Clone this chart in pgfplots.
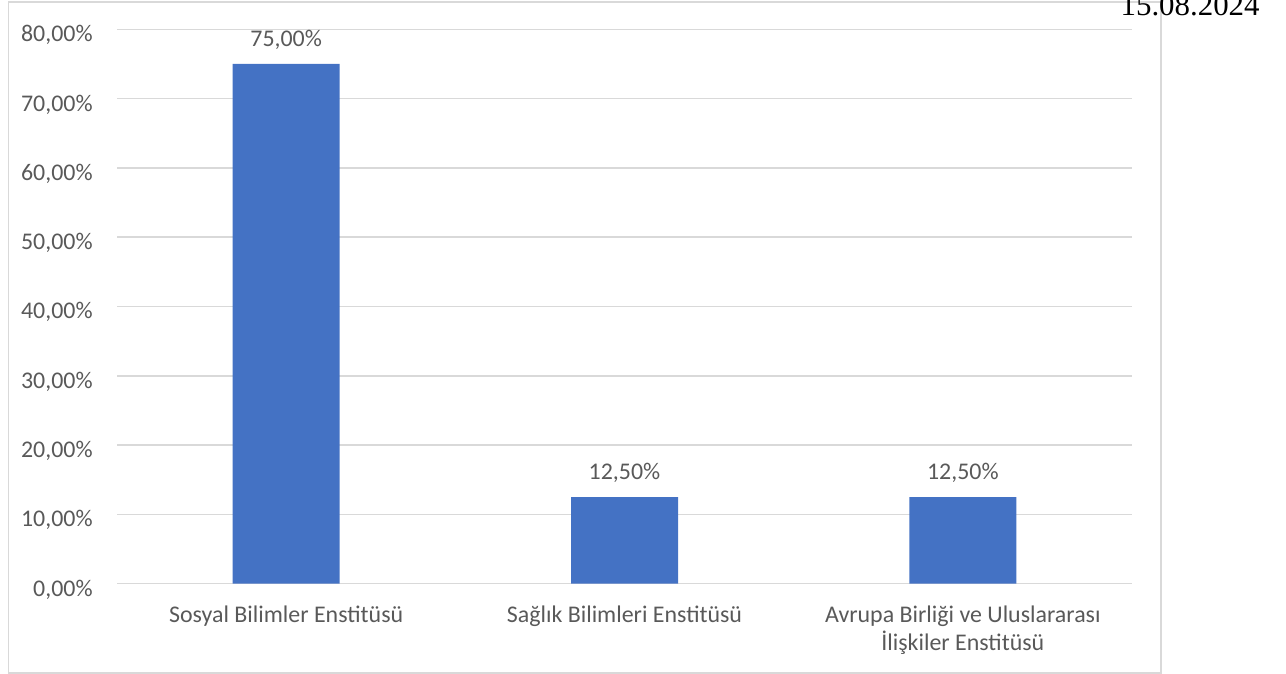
\documentclass[border=0pt]{standalone}
\usepackage{fontspec}
\setmainfont{Carlito}
\newfontfamily\datefont{Liberation Serif}
\usepackage{pgfplots}
\pgfplotsset{compat=1.18}
\definecolor{barblue}{HTML}{4472C4}
\definecolor{txtgray}{HTML}{595959}
\definecolor{gridgray}{HTML}{D9D9D9}
\newcommand{\st}{\rule{0pt}{10bp}}

\begin{document}
\begin{tikzpicture}
\useasboundingbox (0,0) rectangle (643bp,337bp);
\begin{axis}[
    at={(58.5bp,45.15bp)}, anchor=south west,
    scale only axis,
    width=507.5bp, height=277.2bp,
    xmin=-0.5, xmax=2.5,
    ymin=0, ymax=80,
    ytick={0,10,...,80},
    xtick=data,
    xticklabels={\st Sosyal Bilimler Enstitüsü, \st Sağlık Bilimleri Enstitüsü, {\st Avrupa Birliği ve Uluslararası\\İlişkiler Enstitüsü}},
    /pgf/number format/.cd, fixed, fixed zerofill, precision=2, use comma, assume math mode=true,
    /pgfplots/.cd,
    yticklabel={\pgfmathprintnumber{\tick}\%},
    axis line style={draw=none},
    major tick length=0pt,
    ymajorgrids=true,
    grid style={gridgray, line width=0.75bp},
    tick label style={font=\fontsize{12}{14.5}\selectfont, text=txtgray, inner sep=0pt},
    yticklabel style={anchor=base east, xshift=-12bp, yshift=-6.2bp},
    xticklabel style={anchor=north, align=center, yshift=-9bp},
    ybar, bar width=53.5bp,
    nodes near coords={\pgfmathprintnumber{\pgfplotspointmeta}\%},
    every node near coord/.append style={font=\fontsize{12}{14.5}\selectfont, text=txtgray, anchor=base, inner sep=0pt, yshift=8.7bp},
]
\addplot[fill=barblue, draw=none] coordinates {(0,75) (1,12.5) (2,12.5)};
\end{axis}
\draw[gridgray, line width=0.75bp] (4.25bp,0.5bp) rectangle (580.5bp,336bp);
\node[anchor=base east, inner sep=0pt, font=\datefont\fontsize{15.5}{18}\selectfont] at (630bp,329bp) {15.08.2024};
\end{tikzpicture}
\end{document}
